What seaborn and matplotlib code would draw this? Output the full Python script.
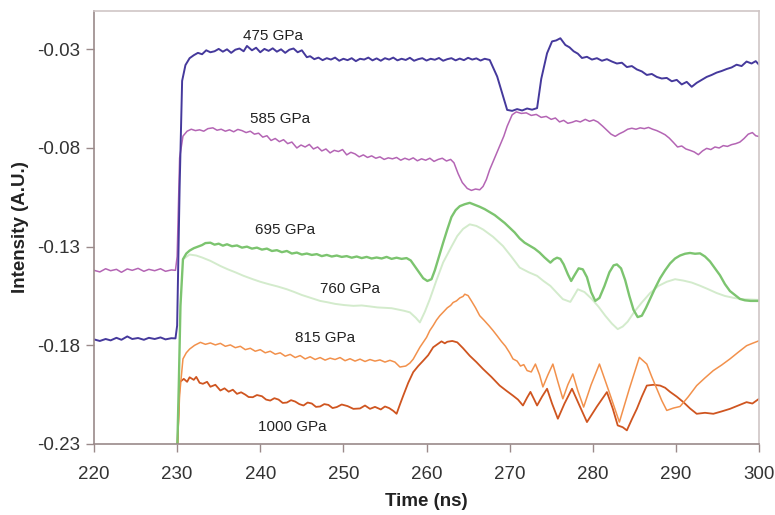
import pandas as pd
import seaborn as sns
from matplotlib import pyplot as plt

# traces: (time ns, intensity A.U.)
pts_475 = [(220, -0.177), (220.7, -0.1778), (221.4, -0.1768), (222, -0.1775), (222.7, -0.1762), (223.3, -0.1772),
           (224, -0.1755), (224.6, -0.1768), (225.3, -0.1763), (226, -0.1772), (226.6, -0.1762), (227.3, -0.1768),
           (228, -0.1760), (228.6, -0.1770), (229.3, -0.1764), (229.8, -0.1765), (230.0, -0.170), (230.3, -0.100),
           (230.6, -0.046), (231.0, -0.038), (231.5, -0.0345), (232, -0.033), (232.5, -0.0318), (233, -0.0325),
           (233.5, -0.0305), (234, -0.0315), (234.5, -0.031), (235, -0.0298), (235.5, -0.0312), (236, -0.030),
           (236.5, -0.0318), (237, -0.0302), (237.5, -0.0296), (238, -0.031), (238.4, -0.0283), (239, -0.0305),
           (239.5, -0.0292), (240, -0.0315), (240.5, -0.0298), (241, -0.0308), (241.5, -0.0295), (242, -0.0312),
           (242.5, -0.0300), (243, -0.0318), (243.5, -0.0302), (244, -0.0296), (244.5, -0.0315), (245, -0.0305),
           (245.6, -0.034), (246, -0.0335), (246.5, -0.035), (247, -0.0342), (247.5, -0.0355), (248, -0.0345),
           (248.5, -0.0352), (249, -0.0342), (249.5, -0.0358), (250, -0.0348), (250.5, -0.0355), (251, -0.0345),
           (251.5, -0.036), (252, -0.0348), (252.5, -0.0352), (253, -0.0342), (253.5, -0.0356), (254, -0.0346),
           (254.5, -0.0358), (255, -0.0345), (255.5, -0.0352), (256, -0.0342), (256.5, -0.0356), (257, -0.0348),
           (257.5, -0.0354), (258, -0.0343), (258.5, -0.0358), (259, -0.0350), (259.5, -0.0345), (260, -0.0357),
           (260.5, -0.0348), (261, -0.0353), (261.5, -0.0344), (262, -0.0358), (262.5, -0.0350), (263, -0.0345),
           (263.5, -0.0356), (264, -0.0347), (264.5, -0.0355), (265, -0.0343), (265.5, -0.0352), (266, -0.0346),
           (266.5, -0.0357), (267, -0.0348), (267.6, -0.0354), (268.5, -0.0438), (269.7, -0.0607), (270.3, -0.0612),
           (270.9, -0.0603), (271.5, -0.0610), (272.1, -0.0600), (272.7, -0.0606), (273.3, -0.0598), (273.8, -0.045),
           (274.5, -0.032), (275.1, -0.026), (275.6, -0.0255), (276.1, -0.0244), (276.7, -0.0278), (277.2, -0.0290),
           (277.7, -0.0310), (278.2, -0.0322), (278.7, -0.0344), (279.3, -0.0338), (279.9, -0.0352), (280.5, -0.0345),
           (281.1, -0.0358), (281.7, -0.0350), (282.3, -0.0362), (282.9, -0.0372), (283.5, -0.0368), (284.1, -0.0390),
           (284.7, -0.0385), (285.3, -0.0402), (285.9, -0.0412), (286.5, -0.0430), (287.1, -0.0425), (287.7, -0.0440),
           (288.3, -0.0448), (288.9, -0.0445), (289.5, -0.0462), (290.1, -0.0455), (290.7, -0.0478), (291.3, -0.0465),
           (291.9, -0.0490), (292.5, -0.0470), (293.1, -0.0455), (293.7, -0.0440), (294.3, -0.0430), (294.9, -0.0418),
           (295.5, -0.0410), (296.1, -0.0400), (296.7, -0.0392), (297.3, -0.0378), (297.9, -0.0385), (298.5, -0.0362),
           (299.1, -0.0372), (299.6, -0.0360), (300, -0.0378)]

pts_585 = [(220, -0.142), (220.7, -0.1428), (221.4, -0.1412), (222, -0.1422), (222.7, -0.1415), (223.3, -0.1430),
           (224, -0.1413), (224.6, -0.1420), (225.3, -0.1410), (226, -0.1425), (226.6, -0.1415), (227.3, -0.1422),
           (228, -0.1412), (228.6, -0.1425), (229.3, -0.1418), (229.8, -0.1420), (230.0, -0.135), (230.3, -0.085),
           (230.7, -0.074), (231.2, -0.0715), (231.7, -0.0705), (232.2, -0.0712), (232.7, -0.0708), (233.2, -0.0715),
           (233.7, -0.0702), (234.3, -0.0698), (234.8, -0.0710), (235.3, -0.0705), (235.8, -0.0715), (236.3, -0.0708),
           (236.8, -0.0718), (237.3, -0.0706), (237.8, -0.0712), (238.3, -0.0722), (238.8, -0.0715), (239.3, -0.0730),
           (239.8, -0.0725), (240.3, -0.0745), (240.8, -0.0738), (241.3, -0.0762), (241.8, -0.0752), (242.3, -0.0768),
           (242.8, -0.0758), (243.3, -0.0778), (243.8, -0.0770), (244.4, -0.0800), (244.9, -0.0785), (245.4, -0.0795),
           (245.9, -0.0782), (246.4, -0.0805), (246.9, -0.0795), (247.4, -0.0815), (247.9, -0.0805), (248.4, -0.0825),
           (248.9, -0.0812), (249.4, -0.0818), (249.9, -0.0808), (250.4, -0.0835), (250.9, -0.0822), (251.4, -0.0830),
           (251.9, -0.0845), (252.4, -0.0835), (252.9, -0.0848), (253.4, -0.0840), (253.9, -0.0852), (254.4, -0.0845),
           (254.9, -0.0858), (255.4, -0.0850), (255.9, -0.0855), (256.4, -0.0848), (256.9, -0.0862), (257.4, -0.0852),
           (257.9, -0.0860), (258.4, -0.0850), (258.9, -0.0865), (259.4, -0.0855), (259.9, -0.0862), (260.4, -0.0852),
           (260.9, -0.0868), (261.4, -0.0858), (261.9, -0.0852), (262.4, -0.0866), (262.9, -0.0858), (263.3, -0.0875),
           (263.8, -0.093), (264.3, -0.0975), (264.9, -0.1005), (265.4, -0.1015), (265.9, -0.1008), (266.4, -0.1012),
           (266.8, -0.0995), (267.2, -0.096), (267.6, -0.091), (268.2, -0.085), (268.8, -0.079), (269.3, -0.074),
           (269.7, -0.069), (270.3, -0.0632), (270.8, -0.0617), (271.4, -0.0625), (272.0, -0.0622), (272.6, -0.0635),
           (273.2, -0.0630), (273.8, -0.0645), (274.4, -0.0640), (275.0, -0.0655), (275.5, -0.0648), (276.0, -0.0668),
           (276.5, -0.0660), (277.0, -0.0675), (277.5, -0.0670), (278.0, -0.0662), (278.5, -0.0668), (279.1, -0.0655),
           (279.6, -0.0665), (280.1, -0.0658), (280.6, -0.0668), (281.2, -0.0690), (281.7, -0.0710), (282.2, -0.0730),
           (282.7, -0.0741), (283.2, -0.0728), (283.7, -0.0718), (284.2, -0.0705), (284.7, -0.0700), (285.2, -0.0705),
           (285.7, -0.0698), (286.2, -0.0702), (286.7, -0.0696), (287.2, -0.0705), (287.7, -0.0712), (288.2, -0.0722),
           (288.7, -0.0733), (289.2, -0.0750), (289.7, -0.0772), (290.2, -0.0795), (290.7, -0.0790), (291.2, -0.0805),
           (291.7, -0.0812), (292.2, -0.0820), (292.7, -0.0834), (293.2, -0.0815), (293.7, -0.0802), (294.2, -0.0808),
           (294.7, -0.0795), (295.2, -0.0800), (295.7, -0.0788), (296.2, -0.0792), (296.7, -0.0783), (297.2, -0.0778),
           (297.7, -0.0770), (298.2, -0.0752), (298.7, -0.0730), (299.2, -0.0722), (299.6, -0.0738), (300, -0.0742)]

pts_695 = [(230.0, -0.235), (230.2, -0.20), (230.4, -0.16), (230.7, -0.1364), (231.1, -0.1335), (231.5, -0.132),
           (232, -0.1308), (232.5, -0.130), (233, -0.1292), (233.4, -0.1282), (234, -0.128), (234.5, -0.1290),
           (235, -0.1285), (235.5, -0.1295), (236, -0.1288), (236.6, -0.1298), (237.2, -0.1294), (237.8, -0.1305),
           (238.4, -0.1300), (239, -0.1310), (239.6, -0.1305), (240.2, -0.1315), (240.8, -0.1310), (241.4, -0.1322),
           (242, -0.1318), (242.6, -0.1328), (243.2, -0.1322), (243.8, -0.1335), (244.4, -0.1330), (245, -0.1340),
           (245.6, -0.1335), (246.2, -0.1342), (246.8, -0.1338), (247.4, -0.1348), (248, -0.1342), (248.6, -0.1350),
           (249.2, -0.1345), (249.8, -0.1352), (250.4, -0.1348), (251, -0.1356), (251.6, -0.1350), (252.2, -0.1358),
           (252.8, -0.1352), (253.4, -0.1360), (254, -0.1355), (254.6, -0.1360), (255.2, -0.1352), (255.8, -0.1362),
           (256.4, -0.1356), (257, -0.1362), (257.6, -0.1358), (258.1, -0.1370), (258.6, -0.1400), (259.1, -0.1430),
           (259.6, -0.1460), (260.1, -0.1474), (260.6, -0.1465), (261.0, -0.1420), (261.5, -0.1350), (262.0, -0.1280),
           (262.5, -0.1213), (263.0, -0.1150), (263.5, -0.1115), (264.0, -0.1095), (264.6, -0.1085), (265.2, -0.1078),
           (265.8, -0.1088), (266.4, -0.1098), (267.0, -0.1110), (267.6, -0.1125), (268.2, -0.1140), (268.8, -0.1160),
           (269.4, -0.1180), (270.0, -0.1204), (270.6, -0.1228), (271.2, -0.1258), (271.8, -0.1280), (272.4, -0.1295),
           (273.0, -0.1310), (273.6, -0.1330), (274.2, -0.1355), (274.9, -0.1381), (275.3, -0.1365), (275.7, -0.1356),
           (276.1, -0.1362), (276.5, -0.1390), (277.0, -0.1440), (277.4, -0.1474), (277.8, -0.1445), (278.3, -0.1410),
           (278.8, -0.1415), (279.3, -0.1455), (279.8, -0.1530), (280.3, -0.1575), (280.8, -0.1560), (281.4, -0.1500),
           (282.0, -0.1430), (282.5, -0.1395), (282.9, -0.1390), (283.4, -0.1410), (283.9, -0.1470), (284.4, -0.1550),
           (284.9, -0.1620), (285.4, -0.1657), (285.9, -0.1650), (286.4, -0.1610), (286.9, -0.1565), (287.5, -0.1510),
           (288.1, -0.1460), (288.7, -0.1420), (289.3, -0.1385), (289.9, -0.1360), (290.5, -0.1345), (291.1, -0.1336),
           (291.7, -0.1332), (292.3, -0.1336), (292.9, -0.1334), (293.5, -0.1350), (294.1, -0.1375), (294.7, -0.1410),
           (295.3, -0.1445), (295.9, -0.1490), (296.5, -0.1525), (297.1, -0.1545), (297.7, -0.1565), (298.3, -0.1572),
           (299, -0.1575), (300, -0.1575)]

pts_760 = [(230.7, -0.1364), (231.5, -0.134), (232.3, -0.1345), (233, -0.1355), (234, -0.1372), (235.2, -0.1398),
           (236.1, -0.1415), (237, -0.143), (238, -0.1448), (239.1, -0.1465), (240, -0.1478), (241, -0.149),
           (242.1, -0.1502), (243.2, -0.1516), (244.1, -0.1530), (245, -0.1545), (246.1, -0.1560), (247.2, -0.1575),
           (248.1, -0.1582), (249, -0.159), (250.1, -0.1596), (251.2, -0.160), (252.2, -0.1598), (253.2, -0.1603),
           (254.1, -0.1608), (255, -0.161), (255.8, -0.1612), (256.5, -0.1618), (257.3, -0.1625), (258, -0.1633),
           (258.7, -0.1660), (259.2, -0.1684), (259.8, -0.1630), (260.4, -0.1566), (261.2, -0.147), (262, -0.138),
           (263, -0.130), (263.7, -0.1246), (264.4, -0.1210), (265.2, -0.1187), (266, -0.1195), (266.8, -0.1213),
           (268, -0.125), (269.2, -0.1297), (270.2, -0.1350), (271.2, -0.1406), (272.3, -0.1430), (273.3, -0.1448),
           (274.1, -0.1475), (274.9, -0.1499), (275.7, -0.1535), (276.4, -0.1566), (277.3, -0.158), (277.8, -0.1545),
           (278.2, -0.1516), (279, -0.1530), (279.9, -0.1566), (280.7, -0.1605), (281.5, -0.165), (282.3, -0.1690),
           (283, -0.1718), (283.6, -0.1705), (284.2, -0.168), (285, -0.1630), (285.9, -0.1583), (286.9, -0.1535),
           (287.9, -0.1499), (288.9, -0.1478), (289.9, -0.1465), (290.9, -0.1472), (291.9, -0.1482), (292.9, -0.1498),
           (293.9, -0.1516), (294.9, -0.1535), (295.9, -0.155), (297, -0.1560), (298, -0.1566), (299, -0.1568),
           (300, -0.157)]

pts_815 = [(230.0, -0.235), (230.3, -0.205), (230.7, -0.1869), (231.1, -0.1838), (231.5, -0.1819), (232.1, -0.1800),
           (232.8, -0.1785), (233.4, -0.1795), (234, -0.1788), (234.6, -0.1798), (235.2, -0.1790), (235.8, -0.1805),
           (236.4, -0.1798), (237, -0.1812), (237.6, -0.1805), (238.2, -0.1822), (238.8, -0.1815), (239.4, -0.1830),
           (240, -0.1822), (240.6, -0.1838), (241.2, -0.1830), (241.8, -0.1845), (242.4, -0.1838), (243, -0.1855),
           (243.6, -0.1846), (244.2, -0.1862), (244.8, -0.1852), (245.4, -0.1869), (246, -0.1858), (246.6, -0.1872),
           (247.2, -0.1862), (247.8, -0.1875), (248.4, -0.1865), (249, -0.1872), (249.6, -0.1862), (250.2, -0.1878),
           (250.8, -0.1868), (251.4, -0.1880), (252, -0.1870), (252.6, -0.1882), (253.2, -0.1872), (253.8, -0.1880),
           (254.4, -0.1874), (255, -0.1885), (255.6, -0.1876), (256.2, -0.1885), (256.8, -0.191), (257.5, -0.1905),
           (258.0, -0.1890), (258.4, -0.1870), (258.8, -0.1840), (259.2, -0.1810), (259.6, -0.1785), (260, -0.1760),
           (260.4, -0.1725), (260.8, -0.170), (261.2, -0.1672), (261.6, -0.165), (262.1, -0.1628), (262.5, -0.161),
           (262.9, -0.1598), (263.2, -0.1583), (263.6, -0.1575), (264.0, -0.1560), (264.4, -0.1552), (264.6, -0.1541),
           (265.0, -0.1548), (265.4, -0.1575), (265.9, -0.1610), (266.4, -0.1650), (266.9, -0.1672), (267.5, -0.170),
           (268.0, -0.1725), (268.5, -0.1752), (269.0, -0.1780), (269.5, -0.1805), (270.0, -0.1838), (270.4, -0.1869),
           (270.9, -0.1880), (271.3, -0.1905), (271.7, -0.1898), (272.1, -0.1928), (272.6, -0.1935), (273.1, -0.1895),
           (273.6, -0.1950), (274, -0.2011), (274.6, -0.1950), (275.2, -0.1895), (275.8, -0.1985), (276.4, -0.2071),
           (277.0, -0.2000), (277.6, -0.1945), (278.2, -0.2030), (278.9, -0.2113), (279.8, -0.2000), (280.8, -0.1895),
           (282.0, -0.2040), (283.2, -0.2189), (284.4, -0.2020), (285.6, -0.1861), (286.5, -0.1895), (287.1, -0.1960),
           (287.7, -0.202), (288.3, -0.2080), (288.9, -0.213), (289.7, -0.2118), (290.5, -0.211), (291.5, -0.2060),
           (292.5, -0.2004), (293.5, -0.1965), (294.5, -0.1928), (295.5, -0.1900), (296.5, -0.1869), (297.5, -0.1835),
           (298.5, -0.1802), (299.2, -0.1790), (300, -0.1777)]

pts_1000 = [(230.0, -0.235), (230.3, -0.1987), (230.8, -0.197), (231.2, -0.1985), (231.5, -0.1962), (232, -0.1975),
            (232.3, -0.1960), (232.7, -0.1990), (233.1, -0.1995), (233.6, -0.1985), (234, -0.201), (234.6, -0.2000),
            (235.2, -0.2029), (235.7, -0.2018), (236.2, -0.2035), (236.7, -0.2025), (237.2, -0.2046), (237.7, -0.2038),
            (238.2, -0.205), (238.6, -0.2062), (239.1, -0.2063), (239.6, -0.2052), (240.2, -0.2058), (240.7, -0.2075),
            (241.2, -0.208), (241.7, -0.2068), (242.2, -0.2075), (242.7, -0.2092), (243.2, -0.209), (243.7, -0.2078),
            (244.2, -0.2085), (244.7, -0.2098), (245.2, -0.2105), (245.7, -0.2090), (246.2, -0.2095), (246.7, -0.2112),
            (247.2, -0.211), (247.7, -0.2098), (248.2, -0.2102), (248.7, -0.2118), (249.2, -0.2113), (249.8, -0.2100),
            (250.5, -0.2108), (251.2, -0.2122), (252, -0.212), (252.6, -0.2105), (253.2, -0.2122), (253.8, -0.2112),
            (254.5, -0.2125), (255, -0.2110), (255.5, -0.2118), (256, -0.2132), (256.4, -0.2147), (256.8, -0.2100),
            (257.2, -0.2055), (257.8, -0.1990), (258.4, -0.1936), (259, -0.1905), (259.6, -0.1878), (260.2, -0.1850),
            (260.8, -0.181), (261.3, -0.1795), (261.8, -0.178), (262.2, -0.1790), (262.5, -0.1782), (263.1, -0.1778),
            (263.7, -0.1785), (264.4, -0.1815), (265.2, -0.1853), (266, -0.1885), (266.8, -0.192), (267.8, -0.1960),
            (268.8, -0.2004), (269.6, -0.2030), (270.4, -0.2055), (271.0, -0.2075), (271.6, -0.2105), (272.1, -0.2065),
            (272.5, -0.2036), (272.9, -0.2070), (273.3, -0.2105), (273.9, -0.2060), (274.5, -0.202), (275.1, -0.2095),
            (275.8, -0.2172), (276.6, -0.2095), (277.5, -0.202), (278.4, -0.2105), (279.3, -0.2189), (280.5, -0.2110),
            (281.7, -0.2037), (282.4, -0.2120), (283, -0.2206), (283.6, -0.2215), (284.1, -0.2231), (284.7, -0.2175),
            (285.3, -0.2122), (285.9, -0.2060), (286.5, -0.2004), (287.3, -0.2000), (288.1, -0.2004), (288.7, -0.2015),
            (289.3, -0.2036), (290.1, -0.2060), (290.9, -0.2088), (291.7, -0.2120), (292.5, -0.2147), (293.5, -0.2142),
            (294.5, -0.2147), (295.5, -0.2135), (296.5, -0.2122), (297.5, -0.2105), (298.5, -0.2088), (299.2, -0.2095),
            (300, -0.2071)]

# label text and where it sits (data coords)
labels = ["475 GPa", "585 GPa", "695 GPa", "760 GPa", "815 GPa", "1000 GPa"]
label_x = [241.5, 242.4, 243.0, 250.8, 247.8, 243.8]
label_y = [-0.0233, -0.0652, -0.1218, -0.1515, -0.1763, -0.2213]

yticks = [-0.03, -0.08, -0.13, -0.18, -0.23]
xticks = [220, 230, 240, 250, 260, 270, 280, 290, 300]

# drawing order: faint trace underneath
series = [
    (pts_760, "#d3ebcc", 1.4),
    (pts_1000, "#cf5520", 1.3),
    (pts_815, "#f2914c", 1.1),
    (pts_695, "#7cc46f", 1.7),
    (pts_585, "#b465b4", 1.1),
    (pts_475, "#45399c", 1.4),
]

sns.set_style("white")
plt.rcParams['font.family'] = ['Liberation Sans', 'DejaVu Sans']

fig = plt.figure(figsize=(7.75, 5.15), dpi=100)
ax = fig.add_axes([0.1213, 0.1379, 0.8581, 0.8407])

for pts, col, lw in series:
    df = pd.DataFrame(pts, columns=["time", "intensity"])
    sns.lineplot(data=df, x="time", y="intensity", color=col, linewidth=lw, ax=ax,
                 estimator=None, sort=False)

for lab, x, y in zip(labels, label_x, label_y):
    ax.text(x, y, lab, ha="center", va="center", fontsize=11, color="#222222")

ax.set_xlim(220, 300)
ax.set_ylim(-0.23, -0.0106)
ax.set_xticks(xticks)
ax.set_yticks(yticks)
ax.set_yticklabels([f"{v:.2f}" for v in yticks])
ax.tick_params(axis="both", labelsize=13.5, labelcolor="#333333", length=6, width=1,
               direction="out", bottom=True, left=True, color="#9a8a8a")
ax.tick_params(axis="x", pad=10)
ax.tick_params(axis="y", pad=4)
ax.set_xlabel("Time (ns)", fontsize=13.5, fontweight="bold", color="#222222", labelpad=7)
ax.set_ylabel("Intensity (A.U.)", fontsize=13.5, fontweight="bold", color="#222222", labelpad=6)

for side in ["left", "bottom"]:
    ax.spines[side].set_color("#9a8a8a")
    ax.spines[side].set_linewidth(1.2)
for side in ["top", "right"]:
    ax.spines[side].set_color("#cfc6c6")
    ax.spines[side].set_linewidth(1.2)

fig.savefig("out.png", dpi=100)
